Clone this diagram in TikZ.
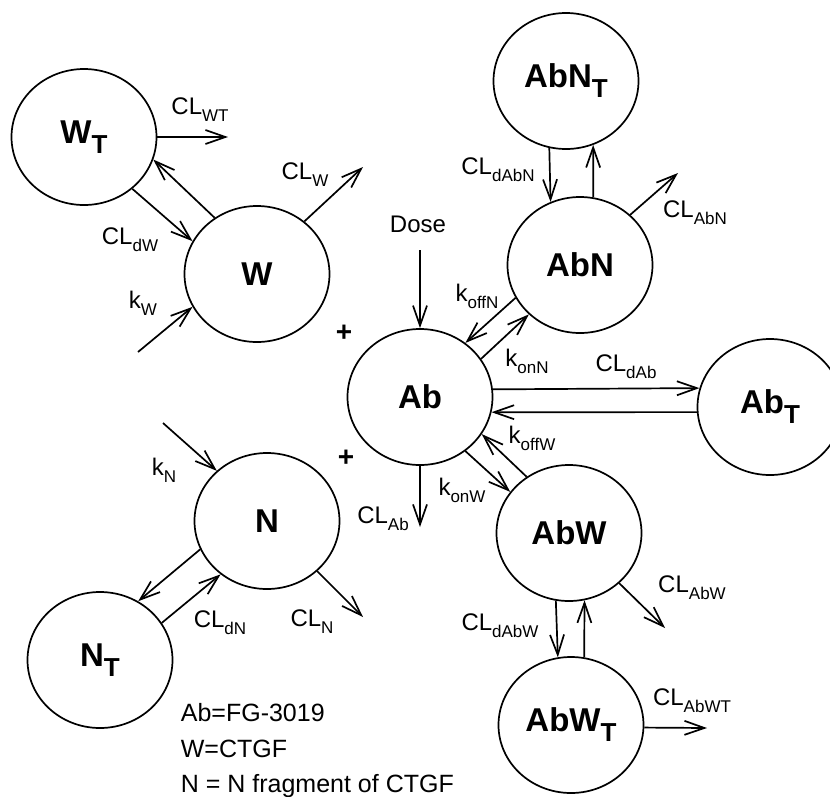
\documentclass[tikz,border=0pt]{standalone}
\usepackage{fontspec}
\setmainfont{Liberation Sans}
\usetikzlibrary{shapes.geometric,arrows.meta}
\newcommand\nlab[1]{{\fontsize{33}{33}\selectfont\bfseries #1}}
\newcommand\nT[1]{{\fontsize{33}{33}\selectfont\bfseries #1\raisebox{-10pt}{\fontsize{26}{26}\selectfont T}}}
\newcommand\lab[2]{{\fontsize{24}{24}\selectfont #1\raisebox{-7pt}{\fontsize{17}{17}\selectfont #2}}}
\begin{document}
\begin{tikzpicture}[x=1pt,y=-1pt, line width=1.7pt,
  comp/.style={ellipse, draw, minimum width=145pt, minimum height=136pt, inner sep=0pt},
  flow/.style={-{Straight Barb[length=20pt,width=14pt]}},
  lbl/.style={inner sep=0pt},
  legend/.style={inner sep=0pt, anchor=base west, font=\fontsize{25}{25}\selectfont}]
\useasboundingbox (0,0) rectangle (830,796);
\clip (0,0) rectangle (830,796);
% compartments
\node[comp] (WT)   at (84,137)  {\nT{W}};
\node[comp] (W)    at (257,274) {\nlab{W}};
\node[comp] (AbNT) at (566,81)  {\nT{AbN}};
\node[comp] (AbN)  at (580,265) {\nlab{AbN}};
\node[comp] (Ab)   at (420,397) {\nlab{Ab}};
\node[comp] (AbT)  at (770,407) {\nT{Ab}};
\node[comp] (AbW)  at (569,533) {\nlab{AbW}};
\node[comp] (AbWT) at (571,725) {\nT{AbW}};
\node[comp] (N)    at (267,521) {\nlab{N}};
\node[comp] (NT)   at (100,660) {\nT{N}};
% free ends
\coordinate (eWT)   at (228,137);
\coordinate (eW)    at (363,167);
\coordinate (sW)    at (138,352);
\coordinate (sDose) at (420,250);
\coordinate (eAbN)  at (678,173);
\coordinate (eAb)   at (420,527);
\coordinate (eAbW)  at (665,628);
\coordinate (eAbWT) at (707,728);
\coordinate (sN)    at (163,423);
\coordinate (eN)    at (363,617);
% W system
\draw[flow] (WT.east) -- (eWT);
\draw[flow] (W.127.6) -- (WT.-18.7);
\draw[flow] (WT.-47.8) -- (W.153.8);
\draw[flow] (W.48.7) -- (eW);
\draw[flow] (sW) -- (W.207.3);
% Dose
\draw[flow] (sDose) -- (Ab.north);
% AbN system
\draw[flow] (AbNT.256.4) -- (AbN.115.9);
\draw[flow] (AbN.79.9) -- (AbNT.-67.7);
\draw[flow] (AbN.45) -- (eAbN);
\draw[flow] (AbN.207.2) -- (Ab.50.2);
\draw[flow] (Ab.32.2) -- (AbN.224.4);
% Ab <-> AbT
\draw[flow] (Ab.6.3) -- (AbT.165.6);
\draw[flow] (AbT.184.75) -- (Ab.-12.8);
% Ab <-> AbW
\draw[flow] (AbW.127.2) -- (Ab.-31.5);
\draw[flow] (Ab.-50.7) -- (AbW.145.9);
\draw[flow] (Ab.south) -- (eAb);
% AbW system
\draw[flow] (AbW.259.9) -- (AbWT.101.9);
\draw[flow] (AbWT.79) -- (AbW.-77.3);
\draw[flow] (AbW.-45.6) -- (eAbW);
\draw[flow] (AbWT.-2.4) -- (eAbWT);
% N system
\draw[flow] (sN) -- (N.135.6);
\draw[flow] (N.203.4) -- (NT.57.7);
\draw[flow] (NT.31.5) -- (N.229);
\draw[flow] (N.-45) -- (eN);
% labels
\node[lbl] (lCLWT)   at (200,110) {\lab{CL}{WT}};
\node[lbl] (lCLdW)   at (130,240) {\lab{CL}{dW}};
\node[lbl] (lCLW)    at (305,175) {\lab{CL}{W}};
\node[lbl] (lkW)     at (143,303) {\lab{k}{W}};
\node[lbl] (lDose)   at (418,224) {\fontsize{24}{24}\selectfont Dose};
\node[lbl] (lCLdAbN) at (498,170) {\lab{CL}{dAbN}};
\node[lbl] (lCLAbN)  at (695,213) {\lab{CL}{AbN}};
\node[lbl] (lkoffN)  at (477,296) {\lab{k}{offN}};
\node[lbl] (lkonN)   at (527,361) {\lab{k}{onN}};
\node[lbl] (lCLdAb)  at (626,367) {\lab{CL}{dAb}};
\node[lbl] (lkoffW)  at (532,438) {\lab{k}{offW}};
\node[lbl] (lkonW)   at (462,490) {\lab{k}{onW}};
\node[lbl] (lCLAb)   at (383,519) {\lab{CL}{Ab}};
\node[lbl] (lkN)     at (164,470) {\lab{k}{N}};
\node[lbl] (lCLdN)   at (220,623) {\lab{CL}{dN}};
\node[lbl] (lCLN)    at (312,622) {\lab{CL}{N}};
\node[lbl] (lCLdAbW) at (500,626) {\lab{CL}{dAbW}};
\node[lbl] (lCLAbW)  at (692,588) {\lab{CL}{AbW}};
\node[lbl] (lCLAbWT) at (692,701) {\lab{CL}{AbWT}};
\node[lbl] (plus1)   at (344,333) {\fontsize{28}{28}\selectfont\bfseries +};
\node[lbl] (plus2)   at (346,458) {\fontsize{28}{28}\selectfont\bfseries +};
% legend
\node[legend] (leg1) at (180,721) {Ab=FG-3019};
\node[legend] (leg2) at (180,757) {W=CTGF};
\node[legend] (leg3) at (180,792) {N = N fragment of CTGF};
\end{tikzpicture}
\end{document}
